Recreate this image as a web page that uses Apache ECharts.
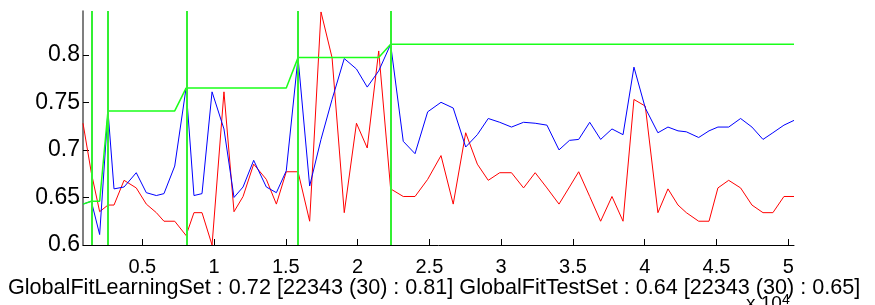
<!DOCTYPE html>
<html>
<head>
<meta charset="utf-8">
<script src="https://cdn.jsdelivr.net/npm/echarts@6/dist/echarts.min.js"></script>
<style>
  html, body { margin: 0; padding: 0; background: #fff; }
  #chart { width: 875px; height: 305px; }
</style>
</head>
<body>
<div id="chart"></div>
<script>
// sample positions (x 10^4)
const xs = [0.087,0.145,0.203,0.261,0.303,0.373,0.458,0.528,0.598,0.651,
  0.726,0.805,0.860,0.916,0.986,1.069,1.139,1.202,1.276,1.364,
  1.434,1.503,1.585,1.666,1.745,1.822,1.907,1.992,2.067,2.147,
  2.230,2.318,2.400,2.488,2.581,2.666,2.753,2.834,2.910,2.990,
  3.072,3.156,3.237,3.319,3.403,3.476,3.540,3.617,3.693,3.772,
  3.849,3.925,4.004,4.092,4.162,4.232,4.290,4.376,4.448,4.510,
  4.585,4.668,4.747,4.824,4.893,4.970,5.040]

// learning set fit (blue)
const learnFit = [0.643,0.646,0.611,0.741,0.659,0.661,0.676,0.655,0.652,0.654,
  0.683,0.765,0.652,0.654,0.761,0.722,0.650,0.661,0.689,0.661,
  0.655,0.678,0.797,0.662,0.711,0.753,0.796,0.785,0.766,0.783,
  0.811,0.709,0.696,0.740,0.750,0.744,0.703,0.716,0.733,0.729,
  0.724,0.729,0.728,0.726,0.700,0.710,0.711,0.729,0.711,0.722,
  0.716,0.787,0.744,0.718,0.724,0.720,0.719,0.713,0.720,0.724,
  0.724,0.733,0.724,0.711,0.718,0.726,0.731]

// test set fit (red)
const testFit = [0.728,0.676,0.635,0.642,0.642,0.668,0.660,0.643,0.634,0.625,
  0.625,0.610,0.634,0.634,0.600,0.761,0.635,0.651,0.685,0.669,
  0.643,0.677,0.677,0.625,0.845,0.797,0.634,0.728,0.702,0.804,
  0.659,0.651,0.651,0.669,0.694,0.643,0.718,0.685,0.668,0.676,
  0.676,0.660,0.676,0.660,0.643,0.661,0.677,0.651,0.625,0.651,
  0.625,0.753,0.746,0.634,0.659,0.642,0.634,0.625,0.625,0.660,
  0.668,0.660,0.642,0.634,0.634,0.651,0.651]

// best so far (green)
const bestFit = [0.643,0.646,0.646,0.741,0.741,0.741,0.741,0.741,0.741,0.741,
  0.741,0.765,0.765,0.765,0.765,0.765,0.765,0.765,0.765,0.765,
  0.765,0.765,0.797,0.797,0.797,0.797,0.797,0.797,0.797,0.797,
  0.811,0.811,0.811,0.811,0.811,0.811,0.811,0.811,0.811,0.811,
  0.811,0.811,0.811,0.811,0.811,0.811,0.811,0.811,0.811,0.811,
  0.811,0.811,0.811,0.811,0.811,0.811,0.811,0.811,0.811,0.811,
  0.811,0.811,0.811,0.811,0.811,0.811,0.811]

// where a new best was found
const bestX = [0.148, 0.261, 0.805, 1.585, 2.230]

const xTicks = [0.5, 1, 1.5, 2, 2.5, 3, 3.5, 4, 4.5, 5]
const yTicks = [0.6, 0.65, 0.7, 0.75, 0.8]

const titleText = 'GlobalFitLearningSet : 0.72 [22343 (30) : 0.81] GlobalFitTestSet : 0.64 [22343 (30) : 0.65]'

function pairs(ys) {
  return xs.map((x, i) => [x, ys[i]])
}

const myChart = echarts.init(document.getElementById('chart'), null, {renderer: 'canvas'})
const font = '"Liberation Sans", Arial, sans-serif'

const option = {
  animation: false,
  backgroundColor: '#fff',
  grid: {left: 83, right: 81, top: 11, bottom: 60},
  xAxis: {
    type: 'value',
    min: 0.087,
    max: 5.04,
    axisLine: {show: true, onZero: false, lineStyle: {color: '#000', width: 1}},
    axisTick: {show: true, inside: true, length: 6, customValues: xTicks, lineStyle: {color: '#000'}},
    axisLabel: {
      customValues: xTicks,
      margin: 12,
      color: '#000',
      fontSize: 20,
      fontFamily: font
    },
    splitLine: {show: false}
  },
  yAxis: {
    type: 'value',
    min: 0.6,
    max: 0.846,
    axisLine: {show: true, onZero: false, lineStyle: {color: '#555', width: 1.5}},
    axisTick: {show: true, inside: true, length: 6, customValues: yTicks, lineStyle: {color: '#000'}},
    axisLabel: {
      customValues: yTicks,
      margin: 3,
      color: '#000',
      fontSize: 23,
      fontFamily: font
    },
    splitLine: {show: false}
  },
  series: [
    {
      type: 'line',
      data: pairs(testFit),
      symbol: 'none',
      lineStyle: {color: '#ff0000', width: 1},
      z: 2
    },
    {
      type: 'line',
      data: pairs(learnFit),
      symbol: 'none',
      lineStyle: {color: '#0000ff', width: 1},
      z: 3
    },
    {
      type: 'line',
      data: pairs(bestFit),
      symbol: 'none',
      lineStyle: {color: '#1aff1a', width: 1.5},
      z: 4,
      markLine: {
        silent: true,
        symbol: 'none',
        label: {show: false},
        lineStyle: {color: '#33f033', width: 2, type: 'solid'},
        data: bestX.map(v => ({xAxis: v}))
      }
    }
  ],
  graphic: [
    {
      type: 'text',
      left: 746,
      top: 293,
      z: 1,
      style: {
        text: 'x 10{s|4}',
        fill: '#000',
        font: '19px ' + font,
        rich: {s: {fontSize: 14, verticalAlign: 'top', padding: [0, 0, 8, 0]}}
      }
    },
    {
      type: 'text',
      left: 8,
      top: 277,
      z: 10,
      style: {
        text: titleText,
        fill: '#000',
        font: '21.6px ' + font
      }
    }
  ]
}

myChart.setOption(option)
</script>
</body>
</html>
